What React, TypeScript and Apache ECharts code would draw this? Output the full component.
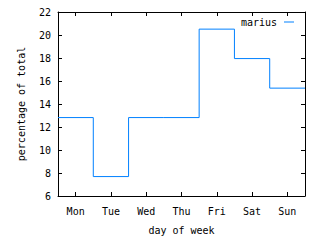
import React, { useEffect, useRef } from "react";
import * as echarts from "echarts";

const days = ["Mon", "Tue", "Wed", "Thu", "Fri", "Sat", "Sun"];
const percentages = [12.82, 7.69, 12.82, 12.82, 20.51, 17.95, 15.38];
const seriesName = "marius";
const yMin = 6;
const yMax = 22;
const yStep = 2;

const FONT = "DejaVu Sans Mono";

export default function App() {
  const ref = useRef<HTMLDivElement>(null);
  useEffect(() => {
    if (!ref.current) return;
    const chart = echarts.init(ref.current, null, { renderer: "svg" });
    // histogram-style steps: each day's value spans from i-0.5 to i+0.5
    const stepData: [number, number][] = percentages.map((v, i) => [i - 0.5, v]);
    stepData.push([percentages.length - 0.5, percentages[percentages.length - 1]]);

    const axisLine = { show: true, onZero: false, lineStyle: { color: "#000", width: 1 } };
    const tick = { show: true, inside: true, length: 4, lineStyle: { color: "#000", width: 1 } };

    chart.setOption({
      animation: false,
      backgroundColor: "#fff",
      grid: { left: 58, right: 15, top: 12, bottom: 42, containLabel: false },
      legend: {
        show: true,
        data: [{ name: seriesName, icon: "rect" }],
        right: 21,
        top: 12,
        align: "right",
        itemWidth: 10,
        itemHeight: 1,
        itemGap: 5,
        textStyle: { fontFamily: FONT, fontSize: 10, color: "#000", padding: [0, 2, 0, 0] },
      },
      xAxis: [
        {
          type: "category",
          data: days,
          position: "bottom",
          boundaryGap: true,
          axisLine,
          axisTick: { ...tick, alignWithLabel: true },
          axisLabel: { fontFamily: FONT, fontSize: 10, color: "#000", margin: 10 },
          splitLine: { show: false },
          name: "day of week",
          nameLocation: "middle",
          nameGap: 29,
          nameTextStyle: { fontFamily: FONT, fontSize: 10, color: "#000" },
        },
        {
          type: "category",
          data: days,
          position: "top",
          boundaryGap: true,
          axisLine,
          axisTick: { ...tick, alignWithLabel: true },
          axisLabel: { show: false },
          splitLine: { show: false },
        },
        {
          type: "value",
          min: -0.5,
          max: days.length - 0.5,
          show: false,
        },
      ],
      yAxis: [
        {
          type: "value",
          min: yMin,
          max: yMax,
          interval: yStep,
          position: "left",
          axisLine,
          axisTick: tick,
          axisLabel: { fontFamily: FONT, fontSize: 10, color: "#000", margin: 7 },
          splitLine: { show: false },
          name: "percentage of total",
          nameLocation: "middle",
          nameRotate: 90,
          nameGap: 32,
          nameTextStyle: { fontFamily: FONT, fontSize: 10, color: "#000" },
        },
        {
          type: "value",
          min: yMin,
          max: yMax,
          interval: yStep,
          position: "right",
          axisLine,
          axisTick: tick,
          axisLabel: { show: false },
          splitLine: { show: false },
        },
      ],
      series: [
        {
          name: seriesName,
          type: "line",
          xAxisIndex: 2,
          yAxisIndex: 0,
          step: "end",
          data: stepData,
          symbol: "none",
          showSymbol: false,
          itemStyle: { color: "#0080ff" },
          lineStyle: { color: "#0080ff", width: 1 },
        },
      ],
    });
    return () => chart.dispose();
  }, []);
  return (
    <div
      ref={ref}
      style={{ position: "fixed", left: 0, top: 0, width: 320, height: 240 }}
    />
  );
}
